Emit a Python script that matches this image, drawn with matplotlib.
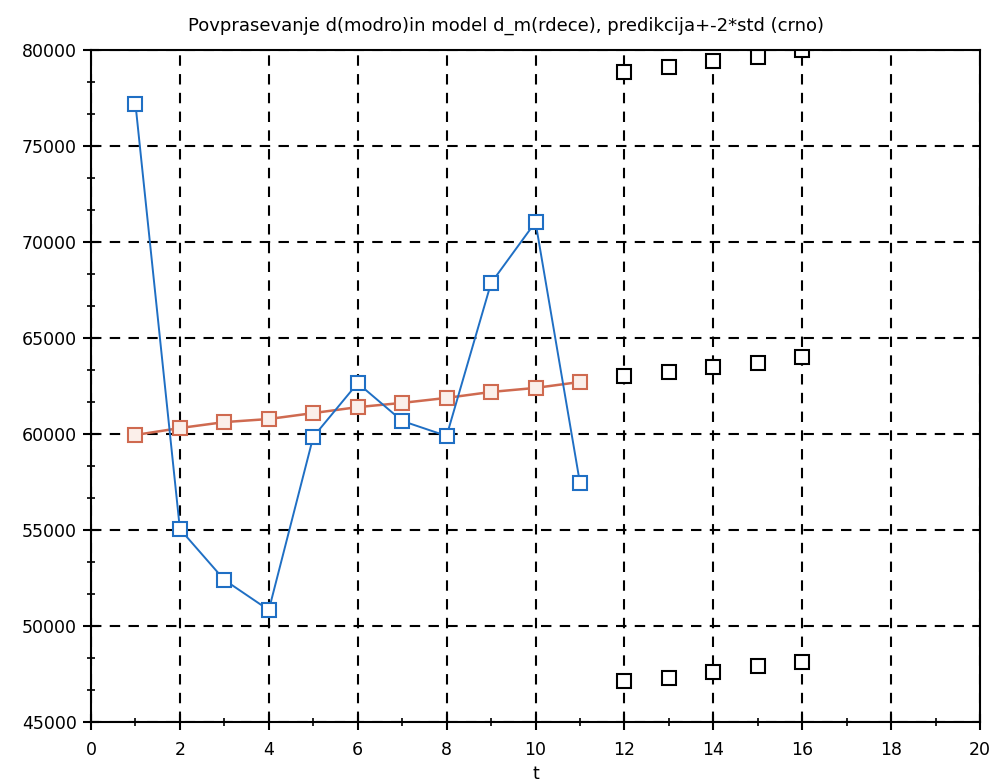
import matplotlib
matplotlib.use("Agg")
import matplotlib.pyplot as plt
from matplotlib.ticker import MultipleLocator

plt.rcParams['font.family'] = ['DejaVu Sans']

t_obs = [1, 2, 3, 4, 5, 6, 7, 8, 9, 10, 11]
demand = [77190, 55050, 52400, 50830, 59850, 62650, 60680, 59900, 67860, 71040, 57450]
model = [59950, 60310, 60620, 60780, 61090, 61400, 61620, 61880, 62190, 62400, 62710]

t_pred = [12, 13, 14, 15, 16]
pred_upper = [78880, 79120, 79450, 79630, 79990]
pred_mid = [63020, 63230, 63490, 63700, 64010]
pred_lower = [47130, 47290, 47600, 47920, 48120]

title = "Povprasevanje d(modro)in model d_m(rdece), predikcija+-2*std (crno)"

fig = plt.figure(figsize=(9.94, 7.82), dpi=100)
ax = fig.add_axes([91/994, 1-722/782, (980-91)/994, (722-50)/782])

blue = '#1f6fc4'
red = '#cf6a50'
ms = 10
ax.plot(t_obs, demand, color=blue, lw=1.4, marker='s', ms=ms, mfc='white', mec=blue, mew=1.5, zorder=4)
ax.plot(t_obs, model, color=red, lw=1.8, marker='s', ms=ms, mfc='#fbefea', mec=red, mew=1.5, zorder=3)
for series in (pred_upper, pred_mid, pred_lower):
    ax.plot(t_pred, series, ls='none', marker='s', ms=ms, mfc='white', mec='black', mew=1.5, zorder=4)

ax.set_xlim(0, 20)
ax.set_ylim(45000, 80000)
ax.xaxis.set_major_locator(MultipleLocator(2))
ax.xaxis.set_minor_locator(MultipleLocator(1))
ax.yaxis.set_major_locator(MultipleLocator(5000))
ax.yaxis.set_minor_locator(MultipleLocator(5000/3))

ax.grid(True, which='major', color='black', ls=(0, (5, 4)), lw=1.5)
ax.set_axisbelow(True)
ax.tick_params(which='major', direction='inout', length=12, width=1.5, labelsize=12.5, colors='black')
ax.tick_params(axis='x', which='major', pad=8)
ax.tick_params(axis='y', which='major', pad=4)
ax.tick_params(which='minor', direction='inout', length=6, width=1.2)
ax.tick_params(top=False, right=False, which='both')
for s in ax.spines.values():
    s.set_linewidth(1.5)
    s.set_color('black')
    s.set_zorder(5)

fig.text(506/994, 1-26/782, title, fontsize=13, ha='center', va='center')
ax.set_xlabel('t', fontsize=12.5, labelpad=4)

fig.savefig('out.png', dpi=100)
